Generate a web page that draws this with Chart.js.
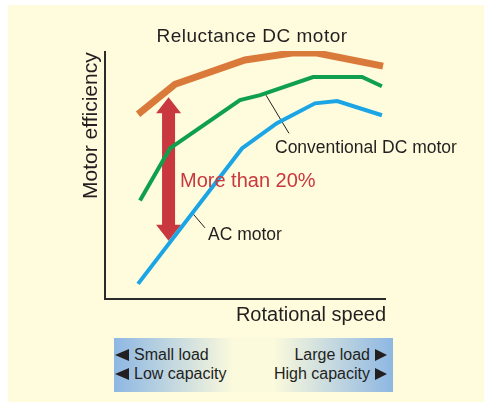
<!DOCTYPE html>
<html>
<head>
<meta charset="utf-8">
<script src="https://cdn.jsdelivr.net/npm/chart.js@4"></script>
<style>
  html, body { margin: 0; padding: 0; background: #fff; }
  #wrap { position: relative; width: 484px; height: 402px; overflow: hidden; }
  #chart { position: absolute; left: 0; top: 0; }
  .box {
    position: absolute; left: 114px; top: 338px; width: 279px; height: 54px;
    background: linear-gradient(to right, #8db7e3 0%, #fcfadc 43%, #fcfadc 57%, #8db7e3 100%);
    font-family: "Liberation Sans", Arial, sans-serif; font-size: 16px; color: #231f20;
  }
  .row { position: absolute; line-height: 18px; white-space: nowrap; }
  .tri-l, .tri-r { display: inline-block; width: 0; height: 0; vertical-align: -1px;
    border-top: 6px solid transparent; border-bottom: 6px solid transparent; }
  .tri-l { border-right: 14px solid #231f20; margin-right: 5px; }
  .tri-r { border-left: 12px solid #231f20; margin-left: 5px; }
</style>
</head>
<body>
<div id="wrap">
  <canvas id="chart" width="484" height="402"></canvas>
  <div class="box">
    <div class="row" style="left:1px; top:8px;"><span class="tri-l"></span>Small load</div>
    <div class="row" style="left:1px; top:27px;"><span class="tri-l"></span>Low capacity</div>
    <div class="row" style="right:6px; top:8px;">Large load<span class="tri-r"></span></div>
    <div class="row" style="right:6px; top:27px;">High capacity<span class="tri-r"></span></div>
  </div>
</div>
<script>
// curves (speed and efficiency on a 0-100 scale)
var reluctanceSpeed = [11.8, 25, 50, 66.8, 75.7, 99.3];
var reluctanceEff   = [74.5, 86.6, 96.4, 99.2, 99.2, 93.9];

var conventionalSpeed = [12.5, 23.2, 48.2, 55.4, 74.3, 91.8, 98.9];
var conventionalEff   = [39.7, 60.7, 80.2, 82.2, 89.5, 89.5, 85.8];

var acSpeed = [11.8, 48.9, 61.4, 75, 82.9, 98.9];
var acEff   = [6.1, 60.7, 70.9, 78.9, 79.8, 74.1];

// the "more than 20%" arrow and the two leader lines
var arrowSpeed = 22.7;
var arrowEff   = [23.5, 81.4];
var convLeader = [[57.5, 82.2], [65.7, 66.8]];
var acLeader   = [[31.1, 34.8], [35.7, 28.7]];

function pts(xs, ys) {
  return xs.map(function(x, i) { return { x: x, y: ys[i] }; });
}

var FONT = '"Liberation Sans", Arial, sans-serif';
var INK = '#231f20';

var decor = {
  id: 'decor',
  beforeDraw: function(chart) {
    var ctx = chart.ctx;
    ctx.save();
    ctx.fillStyle = '#fefcdc';
    ctx.fillRect(8, 5, 484, 402);
    ctx.restore();
  },
  beforeDatasetsDraw: function(chart) {
    var ctx = chart.ctx, xs = chart.scales.x, ys = chart.scales.y;
    ctx.save();

    // leader lines
    ctx.strokeStyle = INK;
    ctx.lineWidth = 1;
    [convLeader, acLeader].forEach(function(l) {
      ctx.beginPath();
      ctx.moveTo(xs.getPixelForValue(l[0][0]), ys.getPixelForValue(l[0][1]));
      ctx.lineTo(xs.getPixelForValue(l[1][0]), ys.getPixelForValue(l[1][1]));
      ctx.stroke();
    });

    // double arrow, under the curves
    var ax = xs.getPixelForValue(arrowSpeed);
    var yb = ys.getPixelForValue(arrowEff[0]);
    var yt = ys.getPixelForValue(arrowEff[1]);
    var hw = 12.5, sw = 6.5, hl = 16;
    ctx.fillStyle = '#c9383f';
    ctx.beginPath();
    ctx.moveTo(ax, yt);
    ctx.lineTo(ax + hw, yt + hl);
    ctx.lineTo(ax + sw, yt + hl);
    ctx.lineTo(ax + sw, yb - hl);
    ctx.lineTo(ax + hw, yb - hl);
    ctx.lineTo(ax, yb);
    ctx.lineTo(ax - hw, yb - hl);
    ctx.lineTo(ax - sw, yb - hl);
    ctx.lineTo(ax - sw, yt + hl);
    ctx.lineTo(ax - hw, yt + hl);
    ctx.closePath();
    ctx.fill();
    ctx.restore();
  },
  afterDatasetsDraw: function(chart) {
    var ctx = chart.ctx;
    var area = chart.chartArea;
    ctx.save();

    // axes
    ctx.strokeStyle = '#2b2b2b';
    ctx.lineWidth = 2;
    ctx.beginPath();
    ctx.moveTo(area.left, area.top);
    ctx.lineTo(area.left, area.bottom);
    ctx.lineTo(area.right + 1, area.bottom);
    ctx.stroke();

    // texts
    ctx.fillStyle = INK;
    ctx.textBaseline = 'alphabetic';
    ctx.letterSpacing = '0.5px';
    ctx.font = '19px ' + FONT;
    ctx.textAlign = 'center';
    ctx.fillText('Reluctance DC motor', 252, 42);

    ctx.letterSpacing = '0px';
    ctx.font = '17.5px ' + FONT;
    ctx.textAlign = 'left';
    ctx.fillText('Conventional DC motor', 275, 153);
    ctx.fillText('AC motor', 208, 240);

    ctx.font = '20px ' + FONT;
    ctx.fillStyle = '#c9383f';
    ctx.fillText('More than 20%', 180, 187);

    ctx.fillStyle = INK;
    ctx.textAlign = 'right';
    ctx.fillText('Rotational speed', 386, 321);

    ctx.font = '21px ' + FONT;
    ctx.translate(97, 199);
    ctx.rotate(-Math.PI / 2);
    ctx.textAlign = 'left';
    ctx.fillText('Motor efficiency', 0, 0);

    ctx.restore();
  }
};

new Chart(document.getElementById('chart').getContext('2d'), {
  type: 'line',
  data: {
    datasets: [
      { label: 'Reluctance DC motor', data: pts(reluctanceSpeed, reluctanceEff),
        borderColor: '#d97a3b', borderWidth: 7 },
      { label: 'Conventional DC motor', data: pts(conventionalSpeed, conventionalEff),
        borderColor: '#0fa04d', borderWidth: 4 },
      { label: 'AC motor', data: pts(acSpeed, acEff),
        borderColor: '#1ba5e5', borderWidth: 4 }
    ]
  },
  options: {
    responsive: false,
    animation: false,
    layout: { padding: { left: 105, top: 51, right: 99, bottom: 103 } },
    elements: {
      point: { radius: 0 },
      line: { tension: 0, borderCapStyle: 'butt', borderJoinStyle: 'miter' }
    },
    scales: {
      x: { type: 'linear', min: 0, max: 100, display: false },
      y: { type: 'linear', min: 0, max: 100, display: false }
    },
    plugins: { legend: { display: false }, tooltip: { enabled: false } }
  },
  plugins: [decor]
});
</script>
</body>
</html>
